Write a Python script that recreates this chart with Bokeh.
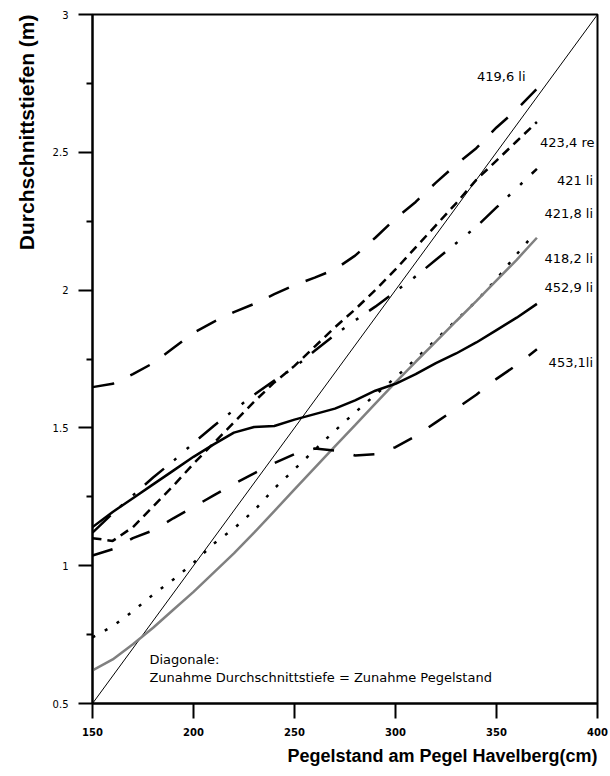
from bokeh.plotting import figure
from bokeh.models import Range1d, FixedTicker, Label, Title, NumeralTickFormatter
from bokeh.embed import file_html
from bokeh.resources import INLINE

# Pegelstand am Pegel Havelberg (cm)
stage_cm = [150, 160, 170, 180, 190, 200, 210, 220, 230, 240, 250, 260,
            270, 280, 290, 300, 310, 320, 330, 340, 350, 360, 370]
stage_cm_4218 = [150, 160, 170, 180, 190, 200, 210, 220, 230, 240, 250, 260,
                 270, 280, 290, 300, 310, 320, 330, 340, 350, 360, 367]

# Durchschnittstiefen (m) je Profil
depth_4196_li = [1.648, 1.66, 1.695, 1.735, 1.79, 1.845, 1.885, 1.92, 1.95, 1.985, 2.018, 2.045,
                 2.075, 2.125, 2.19, 2.26, 2.32, 2.39, 2.455, 2.515, 2.59, 2.655, 2.73]
depth_4234_re = [1.10, 1.09, 1.14, 1.215, 1.29, 1.37, 1.445, 1.52, 1.595, 1.665, 1.725, 1.795,
                 1.865, 1.93, 2.0, 2.075, 2.155, 2.235, 2.315, 2.40, 2.47, 2.54, 2.61]
depth_421_li = [1.12, 1.19, 1.255, 1.32, 1.38, 1.445, 1.507, 1.565, 1.62, 1.672, 1.72, 1.78,
                1.838, 1.89, 1.94, 1.995, 2.05, 2.11, 2.17, 2.23, 2.30, 2.37, 2.44]
depth_4218_li = [0.74, 0.78, 0.835, 0.895, 0.95, 1.01, 1.08, 1.135, 1.20, 1.28, 1.35, 1.42,
                 1.49, 1.556, 1.62, 1.683, 1.75, 1.82, 1.89, 1.96, 2.04, 2.13, 2.19]
depth_4182_li = [0.62, 0.66, 0.715, 0.775, 0.84, 0.905, 0.975, 1.045, 1.12, 1.198, 1.277, 1.355,
                 1.433, 1.51, 1.588, 1.665, 1.74, 1.813, 1.887, 1.96, 2.035, 2.11, 2.19]
depth_4529_li = [1.14, 1.195, 1.245, 1.295, 1.345, 1.395, 1.44, 1.483, 1.503, 1.507, 1.53, 1.55,
                 1.57, 1.60, 1.635, 1.66, 1.695, 1.735, 1.77, 1.81, 1.855, 1.90, 1.95]
depth_4531_li = [1.037, 1.06, 1.10, 1.128, 1.172, 1.213, 1.255, 1.297, 1.335, 1.372, 1.405, 1.425,
                 1.418, 1.40, 1.405, 1.43, 1.47, 1.52, 1.57, 1.62, 1.678, 1.728, 1.785]

series_names = ["419,6 li", "423,4 re", "421 li", "421,8 li", "418,2 li", "452,9 li", "453,1li"]

x_ticks = [150, 200, 250, 300, 350, 400]
y_ticks = [0.5, 1, 1.5, 2, 2.5, 3]
y_minor_ticks = [0.75, 1.25, 1.75, 2.25, 2.75]

# Diagonale: 1 cm Pegelanstieg = 1 cm Tiefenzunahme
diag_x = [x_ticks[0], x_ticks[-1]]
diag_y = [y_ticks[0] + (x - x_ticks[0]) / 100.0 for x in diag_x]

p = figure(width=610, height=776,
           x_range=Range1d(150, 400), y_range=Range1d(0.5, 3),
           output_backend="svg", toolbar_location=None,
           min_border_left=91, min_border_right=13,
           min_border_top=14, min_border_bottom=73)
p.title.visible = False
p.xgrid.visible = False
p.ygrid.visible = False
p.outline_line_color = "black"
p.outline_line_width = 2
p.outline_line_alpha = 1.0

# axes
p.xaxis.ticker = FixedTicker(ticks=x_ticks, minor_ticks=[])
p.xaxis.major_tick_out = 15
p.xaxis.major_tick_in = 0
p.xaxis.major_label_standoff = 9
p.xaxis.major_label_text_font = "DejaVu Sans"
p.xaxis.major_label_text_font_size = "10px"
p.xaxis.major_label_text_font_style = "bold"

p.yaxis.ticker = FixedTicker(ticks=y_ticks, minor_ticks=y_minor_ticks)
p.yaxis.formatter = NumeralTickFormatter(format="0.[0]")
p.yaxis.major_tick_out = 14
p.yaxis.major_tick_in = 0
p.yaxis.minor_tick_out = 6
p.yaxis.minor_tick_in = 0
p.yaxis.major_label_standoff = 10
p.yaxis.major_label_text_font = "DejaVu Sans"
p.yaxis.major_label_text_font_size = "10px"

for ax in (p.xaxis[0], p.yaxis[0]):
    ax.axis_line_width = 2
    ax.axis_line_color = "black"
    ax.major_tick_line_width = 2
    ax.major_tick_line_color = "black"
    ax.minor_tick_line_width = 2
    ax.major_label_text_color = "black"
p.xaxis.minor_tick_line_color = None
p.yaxis.minor_tick_line_color = "black"

p.add_layout(Title(text="Durchschnittstiefen (m)", align="right", standoff=24,
                   text_font="Liberation Sans", text_font_size="21px",
                   text_font_style="bold", text_color="black"), "left")
p.add_layout(Title(text="Pegelstand am Pegel Havelberg(cm)", align="right",
                   text_font="Liberation Sans", text_font_size="18px",
                   text_font_style="bold", text_color="black"), "below")

# diagonal reference line
p.line(diag_x, diag_y, line_color="black", line_width=1)

# curves
p.line(stage_cm, depth_4196_li, line_color="black", line_width=2.5, line_dash="22 18")
p.line(stage_cm, depth_4234_re, line_color="black", line_width=2.5, line_dash="9 6")
p.line(stage_cm, depth_421_li, line_color="black", line_width=2.5, line_dash="25 13 3 14 3 13")
p.line(stage_cm_4218, depth_4218_li, line_color="black", line_width=2.5, line_dash="3 11")
p.line(stage_cm, depth_4182_li, line_color="#808080", line_width=2.5)
p.line(stage_cm, depth_4529_li, line_color="black", line_width=2.5)
p.line(stage_cm, depth_4531_li, line_color="black", line_width=2.5, line_dash="21 20")

# series labels near the line ends (right-aligned anchors)
label_anchor = [(364.4, 2.776), (398.5, 2.537), (397.8, 2.398), (397.8, 2.277),
                (397.8, 2.113), (397.8, 2.01), (397.8, 1.738)]
for name, (lx, ly) in zip(series_names, label_anchor):
    p.add_layout(Label(x=lx, y=ly, text=name, text_align="right",
                       text_baseline="middle", text_font="DejaVu Sans",
                       text_font_size="13px", text_color="black"))

p.add_layout(Label(x=178.2, y=0.66, text="Diagonale:", text_baseline="middle",
                   text_font="DejaVu Sans", text_font_size="13px", text_color="black"))
p.add_layout(Label(x=178.2, y=0.594, text="Zunahme Durchschnittstiefe = Zunahme Pegelstand",
                   text_baseline="middle", text_font="DejaVu Sans",
                   text_font_size="13px", text_color="black"))

open("out.html", "w").write(file_html(p, INLINE))
